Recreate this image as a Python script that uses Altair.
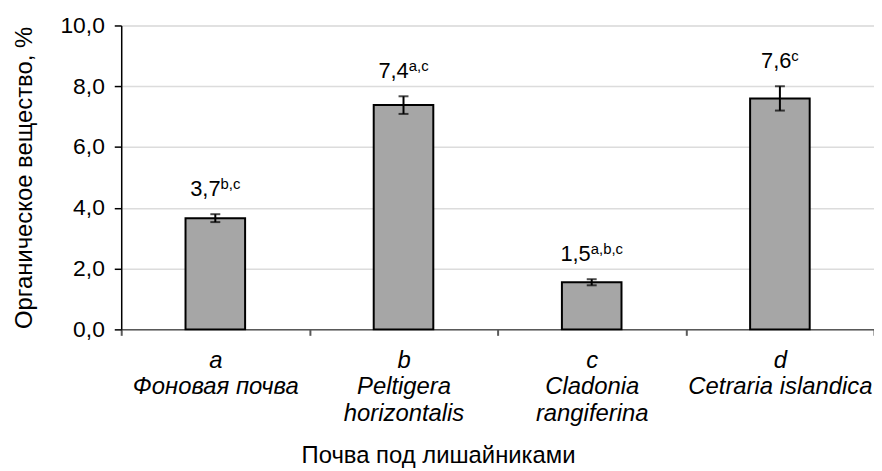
import altair as alt
import pandas as pd

# ---- data ----
categories = ["a", "b", "c", "d"]
names = ["Фоновая почва", "Peltigera|horizontalis", "Cladonia|rangiferina", "Cetraria islandica"]
values = [3.66, 7.38, 1.55, 7.60]
errors = [0.13, 0.29, 0.10, 0.40]
main_labels = ["3,7", "7,4", "1,5", "7,6"]
sup_labels = ["b,c", "a,c", "a,b,c", "c"]
y_ticks = [0, 2, 4, 6, 8, 10]

FONT = "Liberation Sans"
MAIN_SIZE = 22
SUP_SIZE = 15
AXIS_LABEL_SIZE = 23
TITLE_SIZE = 24
WIDTH = 758

xlabels = [f"{c}|{n}" for c, n in zip(categories, names)]
df = pd.DataFrame({
    "cat": categories,
    "xlabel": xlabels,
    "value": values,
    "lo": [v - e for v, e in zip(values, errors)],
    "hi": [v + e for v, e in zip(values, errors)],
    "main": main_labels,
    "sup": sup_labels,
})

# approximate glyph widths (Arial metrics) to centre "main+superscript" as one label
def text_width(s, size):
    w = 0.0
    for ch in s:
        if ch.isdigit():
            w += 0.556
        elif ch == ",":
            w += 0.278
        elif ch == "c":
            w += 0.5
        else:
            w += 0.556
    return w * size

x_enc = alt.X(
    "xlabel:N",
    sort=xlabels,
    scale=alt.Scale(paddingInner=0, paddingOuter=0),
    axis=alt.Axis(
        title="Почва под лишайниками",
        labelExpr="split(datum.label, '|')",
        labelAngle=0,
        labelFontStyle="italic",
        labelFontSize=TITLE_SIZE,
        labelLineHeight=27,
        labelPadding=13,
        labelLimit=0,
        labelOverlap=False,
        labelColor="black",
        labelFont=FONT,
        tickBand="extent",
        tickSize=6,
        tickWidth=2,
        tickColor="#595959",
        domainColor="#595959",
        domainWidth=1.5,
        grid=False,
        titleFontSize=TITLE_SIZE,
        titleFontWeight="normal",
        titleFont=FONT,
        titleColor="black",
        titlePadding=18,
        titleX=319,
        titleAlign="center",
    ),
)

y_scale = alt.Scale(domain=[0, 10], nice=False)
y_enc = alt.Y(
    "value:Q",
    scale=y_scale,
    axis=alt.Axis(
        title="Органическое вещество, %",
        values=y_ticks,
        labelExpr="replace(format(datum.value, '.1f'), '.', ',')",
        labelFontSize=AXIS_LABEL_SIZE,
        labelFont=FONT,
        labelColor="black",
        labelPadding=10,
        tickSize=7,
        tickWidth=1.5,
        tickColor="black",
        domainColor="black",
        domainWidth=1.5,
        grid=True,
        gridColor="#dcdcdc",
        gridWidth=1.5,
        titleFontSize=TITLE_SIZE,
        titleFontWeight="normal",
        titleFont=FONT,
        titleColor="black",
        titlePadding=24,
    ),
)

base = alt.Chart(df)

bars = base.mark_bar(size=60, color="#a6a6a6", stroke="black", strokeWidth=2).encode(
    x=x_enc, y=y_enc
)

err_rule = base.mark_rule(color="black", strokeWidth=2).encode(
    x=alt.X("xlabel:N", sort=xlabels),
    y=alt.Y("lo:Q", scale=y_scale),
    y2="hi:Q",
)
cap_lo = base.mark_tick(color="black", size=10, thickness=2).encode(
    x=alt.X("xlabel:N", sort=xlabels), y=alt.Y("lo:Q", scale=y_scale)
)
cap_hi = base.mark_tick(color="black", size=10, thickness=2).encode(
    x=alt.X("xlabel:N", sort=xlabels), y=alt.Y("hi:Q", scale=y_scale)
)

text_layers = []
for cat, m, s in zip(categories, main_labels, sup_labels):
    shift = (text_width(m, MAIN_SIZE) - text_width(s, SUP_SIZE)) / 2
    sub = base.transform_filter(alt.datum.cat == cat)
    text_layers.append(
        sub.mark_text(align="right", baseline="alphabetic", dx=shift, dy=-18,
                      fontSize=MAIN_SIZE, font=FONT, color="black").encode(
            x=alt.X("xlabel:N", sort=xlabels), y=alt.Y("hi:Q", scale=y_scale), text="main:N"
        )
    )
    text_layers.append(
        sub.mark_text(align="left", baseline="alphabetic", dx=shift, dy=-25,
                      fontSize=SUP_SIZE, font=FONT, color="black").encode(
            x=alt.X("xlabel:N", sort=xlabels), y=alt.Y("hi:Q", scale=y_scale), text="sup:N"
        )
    )

chart = alt.layer(bars, err_rule, cap_lo, cap_hi, *text_layers).properties(
    width=WIDTH,
    height=306,
    padding={"left": 114, "top": 16, "right": 0, "bottom": 139},
    autosize=alt.AutoSizeParams(type="none"),
).configure_view(stroke=None).configure(font=FONT)

chart.save("out.html", embed_options={"renderer": "svg", "actions": False})
